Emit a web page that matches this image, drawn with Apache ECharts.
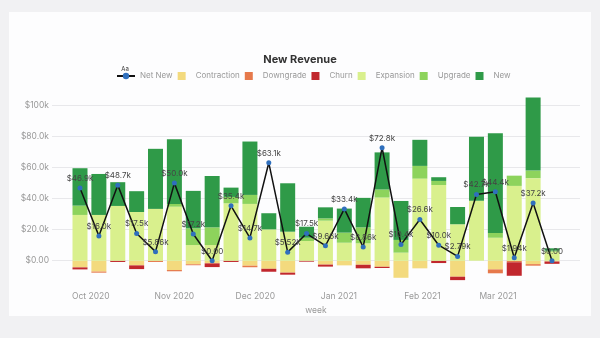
<!DOCTYPE html>
<html><head><meta charset="utf-8">
<script src="https://cdn.jsdelivr.net/npm/echarts@6/dist/echarts.min.js"></script>
<style>
html,body{margin:0;padding:0;width:600px;height:338px;background:#f1f1f3;overflow:hidden}
#card{position:absolute;left:9px;top:12px;width:582px;height:304px;background:#fdfdfe}
#chart{position:absolute;left:0;top:0;width:600px;height:338px}
</style></head><body>
<div id="card"></div><div id="chart"></div>
<script>
// week starts
const weeks = ['2020-09-27','2020-10-04','2020-10-11','2020-10-18','2020-10-25','2020-11-01','2020-11-08','2020-11-15','2020-11-22','2020-11-29','2020-12-06','2020-12-13','2020-12-20','2020-12-27','2021-01-03','2021-01-10','2021-01-17','2021-01-24','2021-01-31','2021-02-07','2021-02-14','2021-02-21','2021-02-28','2021-03-07','2021-03-14','2021-03-21'];
// values in $k
const contraction = [4.3,7.0,0,3.0,0,6.0,2.3,1.7,0,3.2,5.2,7.7,0,2.5,3.0,2.6,3.9,11.0,4.9,0,10.3,0,5.6,0,2.2,0.5];
const downgrade   = [0,0.7,0,0,0.8,0.8,0.6,0,0,1.0,0,0,0,0,0,0,0,0,0,0,0,0,2.5,1.0,1.0,0];
const churn       = [1.3,0,0.8,2.4,0,0,0,2.4,0.8,0,1.9,1.3,0.6,1.3,0,2.3,0.8,0,0,1.5,2.2,0,0,8.7,0,1.5];
const expansion   = [29.5,29.5,35.3,31.4,33.4,34.8,10.1,10.1,37.0,36.6,20.2,18.7,12.7,25.8,11.6,11.2,40.7,5.2,52.9,48.8,23.5,38.7,14.8,48.2,53.2,5.8];
const upgrade     = [6.0,0,0,0,0,1.8,10.8,11.4,4.1,5.8,0,0,2.1,1.5,6.5,10.3,5.2,8.2,8.2,2.6,0,0,3.1,6.6,4.9,0.7];
const newRev      = [24.1,26.4,15.3,13.4,38.7,41.7,24.1,33.1,6.0,34.4,10.4,31.2,7.1,7.1,15.5,19.0,23.9,25.1,16.8,2.4,11.1,41.1,64.3,0,47.1,1.5];
const netNew      = [46.9,16.0,48.7,17.5,5.86,50.0,17.2,0,35.4,14.7,63.1,5.52,17.5,9.66,33.4,8.86,72.8,10.4,26.6,10.0,2.79,42.7,44.4,1.94,37.2,0];
const yTicks = [0,20,40,60,80,100];
const monthTicks = ['2020-10-01','2020-11-01','2020-12-01','2021-01-01','2021-02-01','2021-03-01'];
const monthNames = ['Jan','Feb','Mar','Apr','May','Jun','Jul','Aug','Sep','Oct','Nov','Dec'];

const DAY = 86400000;
const ts = weeks.map(d => new Date(d + 'T00:00:00Z').getTime());
const mts = monthTicks.map(d => new Date(d + 'T00:00:00Z').getTime());
const PAD = 10.38*DAY;
const xMin = ts[0] - PAD, xMax = ts[ts.length-1] + PAD;
const Y_MIN = -15, Y_MAX = 110;
function fmtK(v){
  if (v === 0) return '$0.00';
  const a = Math.abs(v);
  let s = a >= 100 ? a.toFixed(0) : a >= 10 ? a.toFixed(1) : a.toFixed(2);
  return (v < 0 ? '-$' : '$') + s + 'k';
}
function vals(arr, sign){ return arr.map(v => v === 0 ? null : sign*v); }

const FONT = 'Inter, "Noto Sans", sans-serif';
const colors = {Contraction:'#f3da7e', Downgrade:'#e6794b', Churn:'#c1272d', Expansion:'#d9f08d', Upgrade:'#8dd35c', New:'#2f9a48'};
function barSeries(name, arr, sign){
  return {name, type:'bar', stack:'rev', barWidth:15, xAxisIndex:1, yAxisIndex:1,
    data:vals(arr, sign), itemStyle:{color:colors[name]}, emphasis:{disabled:true}};
}
const sq = 'path://M0,0h10v10h-10z';
const outerL = 52, outerR = 20, W = 600 - outerL - outerR;
const span = (xMax - xMin);
const innerL = outerL + W * (ts[0] - 3.5*DAY - xMin) / span;
const innerR = outerR + W * (xMax - (ts[ts.length-1] + 3.5*DAY)) / span;
const chart = echarts.init(document.getElementById('chart'), null, {renderer:'canvas'});
chart.setOption({
  animation:false,
  textStyle:{fontFamily:FONT},
  title:{text:'New Revenue', left:'center', top:49, textStyle:{fontSize:11, fontWeight:'bold', color:'#333', fontFamily:FONT}},
  legend:{left:116, top:72, padding:0, itemWidth:18, itemHeight:8, itemGap:5,
    textStyle:{fontSize:8, color:'#999', fontFamily:FONT},
    data:[{name:'Net New'},{name:'Contraction',icon:sq},{name:'Downgrade',icon:sq},{name:'Churn',icon:sq},{name:'Expansion',icon:sq},{name:'Upgrade',icon:sq},{name:'New',icon:sq}]},
  graphic:[{type:'text', x:125, y:69, style:{text:'Aa', fontSize:6, fill:'#333', align:'center', verticalAlign:'middle', fontFamily:FONT}}],
  grid:[
    {left:outerL, right:outerR, top:90, bottom:54, outerBoundsMode:'none', containLabel:false},
    {left:innerL, right:innerR, top:90, bottom:54, outerBoundsMode:'none', containLabel:false}
  ],
  xAxis:[
    {type:'value', gridIndex:0, min:xMin, max:xMax,
      axisLine:{show:false}, axisTick:{show:false, customValues:mts}, splitLine:{show:false},
      axisLabel:{customValues:mts, hideOverlap:false, fontSize:8.5, color:'#999', margin:8, fontFamily:FONT,
        formatter:function(v){const d=new Date(v); return monthNames[d.getUTCMonth()]+' '+d.getUTCFullYear();}},
      name:'week', nameLocation:'middle', nameGap:18, nameTextStyle:{fontSize:8.5, color:'#999', fontFamily:FONT}},
    {type:'category', gridIndex:1, data:weeks, boundaryGap:true,
      axisLine:{show:false}, axisTick:{show:false}, axisLabel:{show:false}, splitLine:{show:false}}
  ],
  yAxis:[
    {type:'value', gridIndex:0, min:Y_MIN, max:Y_MAX,
      axisLine:{show:false}, axisTick:{show:false, customValues:yTicks},
      axisLabel:{customValues:yTicks, fontSize:8.5, color:'#999', margin:3, formatter:fmtK, fontFamily:FONT},
      splitLine:{show:true, lineStyle:{color:'#e8e8eb', width:1}}},
    {type:'value', gridIndex:1, min:Y_MIN, max:Y_MAX, show:false, splitLine:{show:false}}
  ],
  series:[
    barSeries('Contraction', contraction, -1),
    barSeries('Downgrade', downgrade, -1),
    barSeries('Churn', churn, -1),
    barSeries('Expansion', expansion, 1),
    barSeries('Upgrade', upgrade, 1),
    barSeries('New', newRev, 1),
    {name:'Net New', type:'line', z:10, xAxisIndex:1, yAxisIndex:1, data:netNew,
      symbol:'circle', symbolSize:5, itemStyle:{color:'#2f6fbd'},
      lineStyle:{color:'#111', width:1.5},
      label:{show:true, position:'top', distance:3, fontSize:8, color:'#444', fontFamily:FONT,
        formatter:function(p){return fmtK(p.value);}},
      emphasis:{disabled:true}}
  ]
});
</script>
</body></html>
